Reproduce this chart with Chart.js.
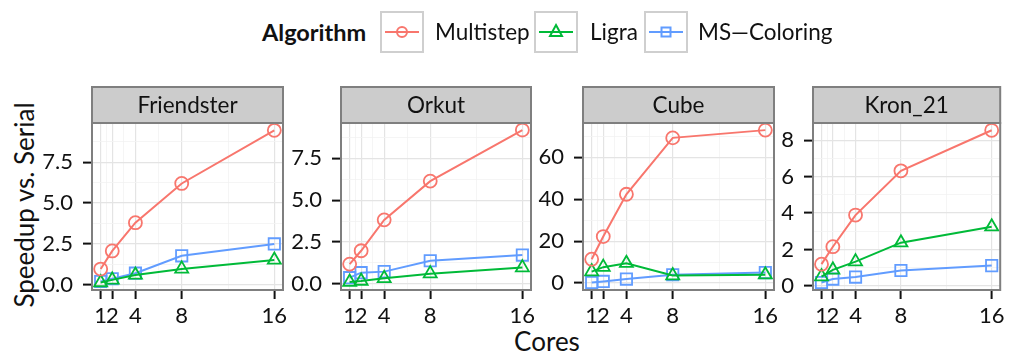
<!DOCTYPE html>
<html>
<head>
<meta charset="utf-8">
<script src="https://cdn.jsdelivr.net/npm/chart.js@4"></script>
<style>
  body { margin: 0; width: 1010px; height: 354px; position: relative; overflow: hidden; background: #fff;
         font-family: Lato, "DejaVu Sans", sans-serif; color: #111; }
  canvas.panel { position: absolute; left: 0; top: 0; }
  .abs { position: absolute; white-space: nowrap; }
  .leg { top: 11px; height: 42px; line-height: 42px; font-size: 22.5px; }
  #ytitle { left: 24px; top: 205px; font-size: 26px; transform: translate(-50%, -50%) rotate(-90deg); }
  #xtitle { left: 547px; top: 325px; font-size: 26px; transform: translateX(-50%); }
</style>
</head>
<body>
<div class="abs leg" style="left:262px;font-weight:bold;font-size:23.5px">Algorithm</div>
<div id="ytitle" class="abs">Speedup vs. Serial</div>
<div id="xtitle" class="abs">Cores</div>
<canvas class="panel" id="p0" width="1010" height="354"></canvas>
<canvas class="panel" id="p1" width="1010" height="354"></canvas>
<canvas class="panel" id="p2" width="1010" height="354"></canvas>
<canvas class="panel" id="p3" width="1010" height="354"></canvas>
<script>
const cores = [1, 2, 4, 8, 16];
const coresMinor = [1.5, 3, 6, 12];
const graphs = ['Friendster', 'Orkut', 'Cube', 'Kron_21'];
const algorithms = ['Multistep', 'Ligra', 'MS\u2014Coloring'];

// speedup per graph, one row per facet
const multistep = [
  [0.96, 2.07, 3.80, 6.20, 9.45],
  [1.17, 1.97, 3.82, 6.14, 9.20],
  [11.4, 22.2, 42.4, 69.3, 73.0],
  [1.19, 2.15, 3.89, 6.32, 8.55]
];
const ligra = [
  [0.14, 0.30, 0.60, 0.97, 1.52],
  [0.10, 0.16, 0.32, 0.60, 0.96],
  [5.5, 7.6, 9.5, 3.6, 4.0],
  [0.51, 0.88, 1.33, 2.37, 3.25]
];
const msColoring = [
  [0.20, 0.37, 0.71, 1.77, 2.50],
  [0.36, 0.66, 0.72, 1.37, 1.71],
  [0.3, 0.8, 1.9, 4.0, 5.0],
  [0.18, 0.37, 0.48, 0.84, 1.11]
];

const yMajor = [[0, 2.5, 5, 7.5], [0, 2.5, 5, 7.5], [0, 20, 40, 60], [0, 2, 4, 6, 8]];
const yMinor = [[1.25, 3.75, 6.25, 8.75], [1.25, 3.75, 6.25, 8.75], [10, 30, 50, 70], [1, 3, 5, 7]];
const yLimits = [[-0.32, 9.9], [-0.38, 9.62], [-3.3, 76.4], [-0.23, 8.95]];

const colors = ['#F8766D', '#00BA38', '#619CFF'];
const shapes = ['circle', 'triangle', 'rect'];
const radii = [6.5, 7.5, 8];

const panelX = [[92, 283], [341, 531], [583, 774], [813, 1004]];
const plotTop = 123, plotBottom = 290, stripH = 36;
const yAxisW = 60, xAxisH = 40;

const tickFont = { family: 'Lato, "DejaVu Sans", sans-serif', size: 22 };

// legend keys
const legX = [[380, 435], [534, 590], [644, 698]];
algorithms.forEach((name, k) => {
  let c = colors[k], mark;
  if (k == 0) mark = `<circle cx="22" cy="21" r="5" fill="none" stroke="${c}" stroke-width="2"/>`;
  else if (k == 1) mark = `<polygon points="22,14 28,25 16,25" fill="none" stroke="${c}" stroke-width="2"/>`;
  else mark = `<rect x="17.5" y="16.5" width="9" height="9" fill="none" stroke="${c}" stroke-width="2"/>`;
  let key = document.createElement('div');
  key.className = 'abs';
  key.style.cssText = `left:${legX[k][0]}px;top:11px`;
  key.innerHTML = `<svg width="44" height="42"><rect x="1" y="1" width="42" height="40" fill="#fff" stroke="#cfcfcf" stroke-width="2"/>` +
    `<line x1="5" y1="21" x2="39" y2="21" stroke="${c}" stroke-width="2"/>${mark}</svg>`;
  document.body.appendChild(key);
  let lab = document.createElement('div');
  lab.className = 'abs leg';
  lab.style.left = legX[k][1] + 'px';
  lab.textContent = name;
  document.body.appendChild(lab);
});

const facet = {
  id: 'facet',
  afterDatasetsDraw(chart) {
    let { ctx, chartArea: a } = chart;
    ctx.save();
    ctx.strokeStyle = '#7f7f7f';
    ctx.lineWidth = 2;
    ctx.strokeRect(a.left, a.top, a.right - a.left, a.bottom - a.top);
    ctx.fillStyle = '#cccccc';
    ctx.fillRect(a.left, a.top - stripH, a.right - a.left, stripH);
    ctx.strokeRect(a.left, a.top - stripH, a.right - a.left, stripH);
    ctx.fillStyle = '#111';
    ctx.font = '22.5px Lato, "DejaVu Sans", sans-serif';
    ctx.textAlign = 'center';
    ctx.textBaseline = 'middle';
    ctx.fillText(chart.options.plugins.facet.label, (a.left + a.right) / 2, a.top - stripH / 2 + 1);
    ctx.restore();
  }
};

graphs.forEach((g, i) => {
  let series = [multistep[i], ligra[i], msColoring[i]];
  let datasets = algorithms.map((name, k) => ({
    label: name,
    data: cores.map((c, j) => ({ x: c, y: series[k][j] })),
    borderColor: colors[k],
    backgroundColor: 'rgba(0,0,0,0)',
    borderWidth: 2,
    pointStyle: shapes[k],
    pointRadius: radii[k],
    pointBorderWidth: 1.8,
    pointBackgroundColor: 'rgba(0,0,0,0)',
    pointBorderColor: colors[k],
    tension: 0,
    clip: false
  }));

  let isMajorY = v => yMajor[i].includes(v);
  let isMajorX = v => cores.includes(v);

  new Chart(document.getElementById('p' + i), {
    type: 'line',
    data: { datasets },
    plugins: [facet],
    options: {
      responsive: false,
      animation: false,
      events: [],
      layout: {
        padding: { left: panelX[i][0] - yAxisW, right: 1010 - panelX[i][1], top: plotTop, bottom: 354 - plotBottom - xAxisH }
      },
      plugins: { legend: { display: false }, tooltip: { enabled: false }, facet: { label: g } },
      scales: {
        x: {
          type: 'linear', min: 0.25, max: 16.75,
          afterBuildTicks: s => { s.ticks = cores.concat(coresMinor).sort((a, b) => a - b).map(v => ({ value: v })); },
          afterFit: s => { s.height = xAxisH; s.paddingLeft = 0; s.paddingRight = 0; },
          ticks: { callback: v => isMajorX(v) ? String(v) : '', autoSkip: false, maxRotation: 0, minRotation: 0,
                   padding: 4, color: '#111', font: tickFont },
          grid: {
            color: c => isMajorX(c.tick.value) ? '#e4e4e4' : '#f3f3f3',
            lineWidth: c => isMajorX(c.tick.value) ? 1.2 : 0.8,
            tickLength: 9, tickWidth: 2,
            tickColor: c => isMajorX(c.tick.value) ? '#111' : 'rgba(0,0,0,0)'
          },
          border: { display: false }
        },
        y: {
          type: 'linear', min: yLimits[i][0], max: yLimits[i][1],
          afterBuildTicks: s => { s.ticks = yMajor[i].concat(yMinor[i]).sort((a, b) => a - b).map(v => ({ value: v })); },
          afterFit: s => { s.width = yAxisW; s.paddingTop = 0; s.paddingBottom = 0; },
          ticks: { callback: v => isMajorY(v) ? (i < 2 ? v.toFixed(1) : String(v)) : '', autoSkip: false,
                   padding: 10, color: '#111', font: tickFont },
          grid: {
            color: c => isMajorY(c.tick.value) ? '#e4e4e4' : '#f3f3f3',
            lineWidth: c => isMajorY(c.tick.value) ? 1.2 : 0.8,
            tickLength: 9, tickWidth: 2,
            tickColor: c => isMajorY(c.tick.value) ? '#111' : 'rgba(0,0,0,0)'
          },
          border: { display: false }
        }
      }
    }
  });
});
</script>
</body>
</html>
